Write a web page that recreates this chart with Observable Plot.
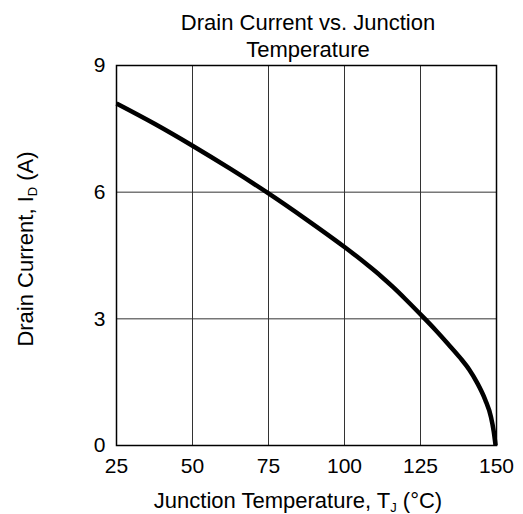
<!DOCTYPE html>
<html><head><meta charset="utf-8">
<script src="https://cdn.jsdelivr.net/npm/d3@7"></script>
<script src="https://cdn.jsdelivr.net/npm/@observablehq/plot@0.6"></script>
<style>
body{margin:0;background:#fff;font-family:"Liberation Sans",Arial,sans-serif;}
#wrap{position:relative;width:523px;height:514px;}
#title{position:absolute;top:10px;left:93px;width:430px;text-align:center;font-size:22px;line-height:26.5px;color:#000;}
</style></head>
<body>
<div id="wrap">
<div id="chart"></div>
<div id="title">Drain Current vs. Junction<br>Temperature</div>
</div>
<script>
const temps =    [25, 37.5, 50, 62.5, 75, 87.5, 100, 104, 108, 112, 116, 120, 124, 126.3, 130, 134, 138, 141, 143.6, 146.3, 148.2, 149.1, 149.7];
const currents = [8.1, 7.62, 7.1, 6.55, 5.97, 5.35, 4.7, 4.48, 4.25, 4.01, 3.75, 3.47, 3.18, 3.01, 2.73, 2.41, 2.08, 1.80, 1.49, 1.08, 0.67, 0.33, 0];
const xTicks = [25, 50, 75, 100, 125, 150];
const yTicks = [0, 3, 6, 9];

const data = temps.map((t, i) => ({t, i: currents[i]}));

const chart = Plot.plot({
  width: 523,
  height: 514,
  marginTop: 65,
  marginBottom: 69,
  marginLeft: 116,
  marginRight: 27,
  style: {fontFamily: "'Liberation Sans', Arial, sans-serif", fontSize: "21px", color: "#000", background: "#fff", overflow: "visible"},
  x: {domain: [25, 150], ticks: xTicks, tickSize: 0, tickPadding: 13, label: null},
  y: {domain: [0, 9], ticks: yTicks, tickSize: 0, tickPadding: 11, label: null},
  marks: [
    Plot.gridX(xTicks, {stroke: "#333", strokeOpacity: 1, strokeWidth: 1}),
    Plot.gridY(yTicks, {stroke: "#333", strokeOpacity: 1, strokeWidth: 1}),
    Plot.frame({stroke: "#000", strokeWidth: 1.5}),
    Plot.line(data, {x: "t", y: "i", stroke: "#000", strokeWidth: 4.5, curve: "monotone-x", strokeLinecap: "butt"})
  ]
});
document.getElementById("chart").appendChild(chart);

const svg = d3.select(chart);
const xl = svg.append("text")
  .attr("x", 298).attr("y", 508)
  .attr("text-anchor", "middle")
  .attr("font-size", 22).attr("fill", "#000");
xl.append("tspan").text("Junction Temperature, T");
xl.append("tspan").attr("font-size", 13).attr("dy", 4).text("J");
xl.append("tspan").attr("dy", -4).text(" (°C)");

const yl = svg.append("text")
  .attr("transform", "translate(33,249) rotate(-90)")
  .attr("text-anchor", "middle")
  .attr("font-size", 22).attr("fill", "#000");
yl.append("tspan").text("Drain Current, I");
yl.append("tspan").attr("font-size", 13).attr("dy", 4).text("D");
yl.append("tspan").attr("dy", -4).text(" (A)");
</script>
</body></html>
